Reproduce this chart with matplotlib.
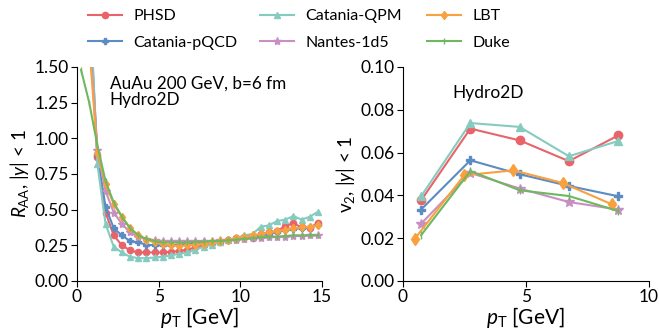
import numpy as np
import matplotlib.pyplot as plt

plt.rcParams['font.family'] = ['Lato', 'DejaVu Sans']
plt.rcParams['mathtext.fontset'] = 'custom'
plt.rcParams['mathtext.rm'] = 'Lato'
plt.rcParams['mathtext.it'] = 'Lato:italic'

models = ['PHSD', 'Catania-pQCD', 'Catania-QPM', 'Nantes-1d5', 'LBT', 'Duke']
colors = ['#e8646a', '#5b8cc4', '#85cbbf', '#c88fc4', '#f9a03f', '#6fb85f']
markers = ['o', 'P', '^', '*', 'd', '|']

# R_AA vs pT
pt_raa = [0.25, 0.75, 1.25, 1.75, 2.25, 2.75, 3.25, 3.75, 4.25, 4.75,
          5.25, 5.75, 6.25, 6.75, 7.25, 7.75, 8.25, 8.75, 9.25, 9.75,
          10.25, 10.75, 11.25, 11.75, 12.25, 12.75, 13.25, 13.75, 14.25, 14.75]
raa_phsd = [5.0, 1.80, 0.87, 0.48, 0.32, 0.25, 0.215, 0.20, 0.20, 0.20,
            0.20, 0.205, 0.21, 0.22, 0.235, 0.25, 0.265, 0.275, 0.285, 0.30,
            0.31, 0.30, 0.33, 0.34, 0.35, 0.385, 0.405, 0.375, 0.37, 0.41]
raa_pqcd = [5.5, 1.95, 0.88, 0.52, 0.37, 0.32, 0.28, 0.27, 0.255, 0.25,
            0.25, 0.25, 0.255, 0.26, 0.265, 0.27, 0.275, 0.28, 0.285, 0.295,
            0.30, 0.31, 0.32, 0.33, 0.345, 0.355, 0.365, 0.37, 0.375, 0.39]
raa_qpm = [6.0, 2.10, 0.82, 0.40, 0.24, 0.20, 0.17, 0.16, 0.16, 0.165,
           0.17, 0.18, 0.19, 0.20, 0.22, 0.24, 0.255, 0.27, 0.29, 0.30,
           0.32, 0.33, 0.38, 0.39, 0.42, 0.43, 0.455, 0.43, 0.45, 0.485]
raa_nantes = [4.5, 1.75, 0.92, 0.63, 0.48, 0.40, 0.34, 0.31, 0.295, 0.285,
              0.28, 0.28, 0.28, 0.28, 0.28, 0.28, 0.28, 0.285, 0.285, 0.29,
              0.295, 0.30, 0.30, 0.305, 0.31, 0.31, 0.315, 0.315, 0.32, 0.32]
raa_lbt = [4.0, 1.65, 0.90, 0.68, 0.54, 0.45, 0.37, 0.32, 0.29, 0.27,
           0.26, 0.25, 0.245, 0.25, 0.255, 0.26, 0.27, 0.28, 0.29, 0.30,
           0.31, 0.32, 0.33, 0.34, 0.35, 0.36, 0.37, 0.375, 0.38, 0.39]
raa_duke = [1.48, 1.25, 0.95, 0.70, 0.55, 0.45, 0.37, 0.32, 0.295, 0.28,
            0.27, 0.27, 0.27, 0.27, 0.275, 0.275, 0.28, 0.28, 0.285, 0.29,
            0.295, 0.30, 0.305, 0.31, 0.31, 0.315, 0.32, 0.32, 0.32, 0.32]
raa_all = [raa_phsd, raa_pqcd, raa_qpm, raa_nantes, raa_lbt, raa_duke]

# v2 vs pT
pt_v2 = [0.75, 2.75, 4.75, 6.75, 8.75]
pt_v2_lbt = [0.5, 2.5, 4.5, 6.5, 8.5]
v2_phsd = [0.0377, 0.0712, 0.0657, 0.0560, 0.0680]
v2_pqcd = [0.0334, 0.0564, 0.0499, 0.0444, 0.0396]
v2_qpm = [0.0396, 0.0738, 0.0720, 0.0583, 0.0654]
v2_nantes = [0.0268, 0.0505, 0.0432, 0.0369, 0.0334]
v2_lbt = [0.0198, 0.0494, 0.0517, 0.0458, 0.0358]
v2_duke = [0.0214, 0.0514, 0.0424, 0.0397, 0.0327]
v2_all = [v2_phsd, v2_pqcd, v2_qpm, v2_nantes, v2_lbt, v2_duke]
v2_x = [pt_v2, pt_v2, pt_v2, pt_v2, pt_v2_lbt, pt_v2]

fig = plt.figure(figsize=(6.59, 3.3), dpi=100)
ax1 = fig.add_axes([0.1168, 0.1485, 0.3718, 0.6485])
ax2 = fig.add_axes([0.611, 0.1485, 0.3737, 0.6485])

handles = []
for i, name in enumerate(models):
    ms = 6 if markers[i] == '*' else 4.5
    h, = ax1.plot(pt_raa, raa_all[i], color=colors[i], marker=markers[i],
                  markersize=ms, linewidth=1.5, label=name)
    ax2.plot(v2_x[i], v2_all[i], color=colors[i], marker=markers[i],
             markersize=ms + 1.5, linewidth=1.5)
    handles.append(h)

ax1.set_xlim(0, 15)
ax1.set_ylim(0, 1.5)
ax1.set_xticks([0, 5, 10, 15])
ax1.set_yticks([0, 0.25, 0.5, 0.75, 1.0, 1.25, 1.5])
ax1.set_yticklabels(['0.00', '0.25', '0.50', '0.75', '1.00', '1.25', '1.50'])
ax1.set_xlabel(r'$p_{\rm T}$ [GeV]', fontsize=15, labelpad=0)
ax1.set_ylabel(r'$R_{\rm AA}$, $|y|$ < 1', fontsize=13.5, labelpad=2)
ax1.text(2.0, 1.44, 'AuAu 200 GeV, b=6 fm\nHydro2D', fontsize=12.3,
         va='top', ha='left', linespacing=1.05)

ax2.set_xlim(0, 10)
ax2.set_ylim(0, 0.1)
ax2.set_xticks([0, 5, 10])
ax2.set_yticks([0, 0.02, 0.04, 0.06, 0.08, 0.1])
ax2.set_yticklabels(['0.00', '0.02', '0.04', '0.06', '0.08', '0.10'])
ax2.set_xlabel(r'$p_{\rm T}$ [GeV]', fontsize=15, labelpad=0)
ax2.set_ylabel(r'v$_2$, $|y|$ < 1', fontsize=13.5, labelpad=2)
ax2.text(2.0, 0.088, 'Hydro2D', fontsize=12.5, va='center', ha='left')

for ax in (ax1, ax2):
    ax.spines['top'].set_visible(False)
    ax.spines['right'].set_visible(False)
    ax.tick_params(labelsize=12.5, length=4, width=0.8, direction='out', pad=2)

# three single-column legends placed like the original
leg_x = [88 / 659, 260 / 659, 427 / 659]
for k in range(3):
    leg = fig.legend(handles=handles[2 * k:2 * k + 2], loc='upper left',
                     bbox_to_anchor=(leg_x[k], 0.972), frameon=False,
                     fontsize=11.5, handlelength=2.1, handletextpad=0.75,
                     labelspacing=0.75, borderpad=0, borderaxespad=0)

fig.savefig('out.png', dpi=100)
